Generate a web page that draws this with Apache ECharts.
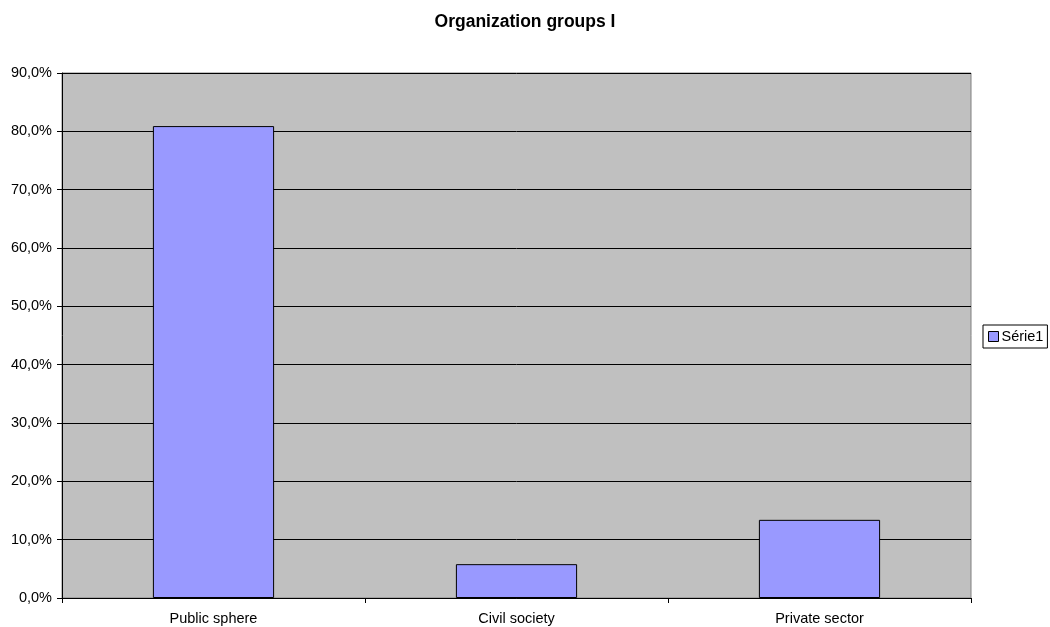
<!DOCTYPE html>
<html>
<head>
<meta charset="utf-8">
<script src="https://cdn.jsdelivr.net/npm/echarts@6/dist/echarts.min.js"></script>
<style>
  html, body { margin: 0; padding: 0; background: #fff; }
  #chart { width: 1050px; height: 627px; }
</style>
</head>
<body>
<div id="chart"></div>
<script>
// Share of respondents by organization group
const categories = ['Public sphere', 'Civil society', 'Private sector'];
const seriesName = 'Série1';
const values = [80.9, 5.8, 13.4];

const FONT = '"Liberation Sans", Arial, sans-serif';

const chart = echarts.init(document.getElementById('chart'), null, { renderer: 'canvas' });

chart.setOption({
  animation: false,
  backgroundColor: '#ffffff',
  title: {
    text: 'Organization groups I',
    left: 'center',
    top: 8,
    textStyle: { fontFamily: FONT, fontSize: 17.5, fontWeight: 'bold', color: '#000' }
  },
  legend: {
    data: [seriesName],
    left: 983,
    top: 325,
    orient: 'vertical',
    itemWidth: 10,
    itemHeight: 10,
    itemGap: 4,
    padding: [4, 4, 4, 5],
    borderColor: '#000',
    borderWidth: 1,
    backgroundColor: '#fff',
    icon: 'rect',
    textStyle: { fontFamily: FONT, fontSize: 14.5, color: '#000', padding: [0, 0, 0, -2] },
    itemStyle: { borderColor: '#000', borderWidth: 1 }
  },
  grid: {
    left: 62,
    right: 79,
    top: 73,
    bottom: 29,
    show: true,
    backgroundColor: '#C0C0C0',
    borderColor: '#808080',
    borderWidth: 1
  },
  xAxis: {
    type: 'category',
    data: categories,
    axisLine: { lineStyle: { color: '#000', width: 1 } },
    axisTick: { show: true, alignWithLabel: false, length: 5, lineStyle: { color: '#000' } },
    axisLabel: { fontFamily: FONT, fontSize: 14.5, color: '#000', margin: 13 },
    splitLine: { show: false }
  },
  yAxis: {
    type: 'value',
    min: 0,
    max: 90,
    interval: 10,
    axisLine: { show: true, lineStyle: { color: '#000', width: 1 } },
    axisTick: { show: true, length: 5, lineStyle: { color: '#000' } },
    axisLabel: {
      fontFamily: FONT, fontSize: 14.5, color: '#000', margin: 10,
      formatter: v => v.toFixed(1).replace('.', ',') + '%'
    },
    splitLine: { show: true, lineStyle: { color: '#000', width: 1 } }
  },
  series: [{
    name: seriesName,
    type: 'bar',
    data: values,
    barWidth: '40%',
    itemStyle: { color: '#9999FF', borderColor: '#000', borderWidth: 1 }
  }]
});
</script>
</body>
</html>
